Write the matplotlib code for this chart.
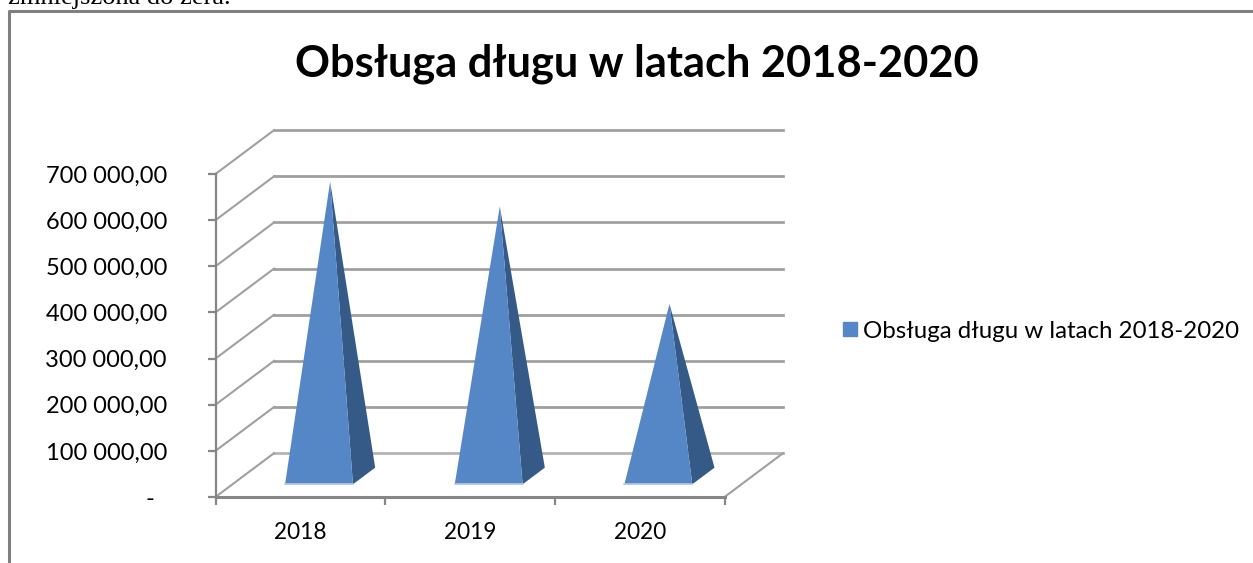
import matplotlib
matplotlib.use("Agg")
import matplotlib.pyplot as plt
from matplotlib.lines import Line2D
from matplotlib.patches import Patch

years = ['2018', '2019', '2020']
debt_service = [638000, 584000, 373000]
y_ticks = [0, 100000, 200000, 300000, 400000, 500000, 600000, 700000]
y_labels = ['-  ', '100 000,00', '200 000,00', '300 000,00', '400 000,00',
            '500 000,00', '600 000,00', '700 000,00']
series_name = 'Obsługa długu w latach 2018-2020'

W, H = 1253, 563
BLUE = '#5586C6'
DARK = '#365A87'
GRID = '#A0A0A0'
AXIS = '#868686'

# depth of the fake 3d box, in data units
depth_x = 0.345
depth_y = 95000
half_w = 0.2
front_d, back_d = 0.29, 0.67

plt.rcParams['font.family'] = ['Lato', 'DejaVu Sans']

fig = plt.figure(figsize=(W / 100, H / 100), dpi=100)
ax = fig.add_axes([215.5 / W, 1 - 497 / H, 509 / W, 323 / H])
ax.set_xlim(0, 3)
ax.set_ylim(0, 700000)
ax.patch.set_alpha(0)

# back wall and side wall
for v in y_ticks:
    c = '#B4B4B4' if v == 0 else GRID
    ax.plot([depth_x, 3 + depth_x], [v + depth_y] * 2, color=c, lw=2.0, clip_on=False, zorder=1)
    ax.plot([0, depth_x], [v, v + depth_y], color=GRID, lw=1.5, clip_on=False, zorder=1)
ax.plot([3, 3 + depth_x], [0, depth_y], color=GRID, lw=1.5, clip_on=False, zorder=1)

# pyramids
for i, val in enumerate(debt_service):
    c = i + 0.51
    fl = (c - half_w + front_d * depth_x, front_d * depth_y)
    fr = (c + half_w + front_d * depth_x, front_d * depth_y)
    br = (c + half_w + back_d * depth_x, back_d * depth_y)
    mid = (front_d + back_d) / 2
    tip = (c + mid * depth_x, mid * depth_y + val)
    ax.fill(*zip(br, fr, tip), color=DARK, lw=0, clip_on=False, zorder=3)
    ax.fill(*zip(fl, fr, tip), color=BLUE, lw=0, clip_on=False, zorder=4)
    ax.plot([fl[0], fr[0]], [fl[1], fr[1]], color='#B5C9E4', lw=1.2, clip_on=False, zorder=5)

for s in ['top', 'right']:
    ax.spines[s].set_visible(False)
ax.spines['left'].set_color(AXIS)
ax.spines['left'].set_linewidth(1.6)
ax.spines['bottom'].set_color(AXIS)
ax.spines['bottom'].set_linewidth(2.2)

ax.set_yticks(y_ticks)
ax.set_yticklabels(y_labels, fontsize=17)
ax.set_xticks([0, 1, 2, 3])
ax.set_xticklabels([])
ax.set_xticks([0.5, 1.5, 2.5], labels=years, minor=True, fontsize=16.3)
ax.tick_params(axis='y', length=6, width=1.6, color=AXIS, pad=29)
ax.tick_params(axis='x', which='major', length=6, width=1.6, color=AXIS)
ax.tick_params(axis='x', which='minor', length=0, pad=18)

fig.text(636.5 / W, 1 - 64 / H, series_name, fontsize=31.2, fontweight='bold', ha='center', va='center')

fig.legend(handles=[Patch(color=BLUE, label=series_name)], loc='center left',
           bbox_to_anchor=(821 / W, 1 - 331 / H), frameon=False, fontsize=17.3,
           handlelength=0.58, handleheight=0.58, handletextpad=0.25)

# chart frame and the clipped line of page text above it
fig.add_artist(Line2D([9 / W, 9 / W, 1], [0, 1 - 11 / H, 1 - 11 / H], color='#808080', lw=2.2))
fig.text(8 / W, 1 - 4 / H, 'zmniejszona do zera.', fontsize=19, family='Liberation Serif', va='baseline')

fig.savefig('out.png', dpi=100)
